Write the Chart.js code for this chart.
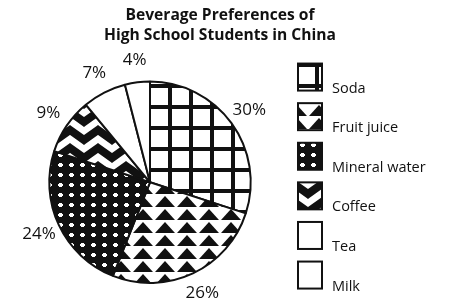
<!DOCTYPE html>
<html>
<head>
<meta charset="utf-8">
<script src="https://cdn.jsdelivr.net/npm/chart.js@4.4.1/dist/chart.umd.min.js"></script>
<style>
  html, body { margin: 0; padding: 0; background: #fff; }
  #wrap { width: 455px; height: 308px; }
</style>
</head>
<body>
<div id="wrap"><canvas id="pieChart"></canvas></div>
<script>
// values
var categories = ['Soda', 'Fruit juice', 'Mineral water', 'Coffee', 'Tea', 'Milk'];
var shares = [30, 26, 24, 9, 7, 4];
var titleLines = ['Beverage Preferences of', 'High School Students in China'];

var FONT = '"Open Sans"';
var INK = '#111';

// small tiles used as fills
function makePattern(w, h, paint) {
    var c = document.createElement('canvas');
    c.width = w;
    c.height = h;
    var g = c.getContext('2d');
    g.fillStyle = '#fff';
    g.fillRect(0, 0, w, h);
    g.fillStyle = INK;
    g.strokeStyle = INK;
    paint(g, w, h);
    return g.createPattern(c, 'repeat');
}

var gridFill = makePattern(21, 21, function (g, w, h) {
    g.fillRect(0, 0, 4, h);
    g.fillRect(0, 0, w, 4);
});

var triFill = makePattern(22, 13, function (g, w, h) {
    g.beginPath();
    g.moveTo(1, 12);
    g.lineTo(21, 12);
    g.lineTo(11, 1);
    g.closePath();
    g.fill();
});

var dotFill = makePattern(11, 10, function (g, w, h) {
    g.fillRect(0, 0, w, h);
    g.fillStyle = '#fff';
    g.fillRect(3, 4, 5, 2);
    g.fillRect(4, 3, 3, 4);
});

var zigFill = makePattern(28, 18, function (g, w, h) {
    g.lineWidth = 8;
    g.lineJoin = 'miter';
    for (var k = -1; k <= 1; k++) {
        var o = k * h;
        g.beginPath();
        g.moveTo(-14, 4 + o);
        g.lineTo(0, 14 + o);
        g.lineTo(14, 4 + o);
        g.lineTo(28, 14 + o);
        g.lineTo(42, 4 + o);
        g.stroke();
    }
});

var fills = [gridFill, triFill, dotFill, zigFill, '#fff', '#fff'];

// percentage labels just outside each slice
var outsideLabels = {
    id: 'outsideLabels',
    afterDatasetsDraw: function (chart) {
        var ctx = chart.ctx;
        var meta = chart.getDatasetMeta(0);
        ctx.save();
        ctx.font = '17px ' + FONT;
        ctx.fillStyle = INK;
        ctx.textAlign = 'center';
        ctx.textBaseline = 'middle';
        meta.data.forEach(function (arc, i) {
            var p = arc.getProps(['x', 'y', 'startAngle', 'endAngle', 'outerRadius'], true);
            var a = (p.startAngle + p.endAngle) / 2;
            var r = p.outerRadius + 22;
            ctx.fillText(shares[i] + '%', p.x + Math.cos(a) * r, p.y + Math.sin(a) * r);
        });
        ctx.restore();
    }
};

// legend column on the right, registered as a layout box so the title stays centred on the page
var sideLegend = {
    id: 'sideLegend',
    beforeInit: function (chart) {
        var box = {
            position: 'right',
            weight: 1000,
            fullSize: false,
            options: {},
            isHorizontal: function () { return false; },
            update: function (maxWidth, maxHeight) {
                this.width = 140;
                this.height = maxHeight;
            },
            draw: function () {
                var ctx = chart.ctx;
                var x = this.left - 2;
                var y = this.top - 17;
                ctx.save();
                ctx.font = '14.5px ' + FONT;
                ctx.textBaseline = 'alphabetic';
                ctx.textAlign = 'left';
                categories.forEach(function (name, i) {
                    var top = y + i * 39.6;
                    ctx.fillStyle = fills[i];
                    ctx.fillRect(x, top, 24, 27);
                    ctx.lineWidth = 2;
                    ctx.strokeStyle = INK;
                    ctx.strokeRect(x, top, 24, 27);
                    ctx.fillStyle = INK;
                    ctx.fillText(name, x + 34, top + 29);
                });
                ctx.restore();
            }
        };
        Chart.layouts.addBox(chart, box);
    }
};

var ctxP = document.getElementById('pieChart').getContext('2d');
var myPieChart = new Chart(ctxP, {
    type: 'pie',
    data: {
        labels: categories,
        datasets: [{
            data: shares,
            backgroundColor: fills,
            borderColor: INK,
            borderWidth: 2,
            hoverOffset: 0,
            hoverBorderWidth: 2
        }]
    },
    options: {
        responsive: true,
        maintainAspectRatio: false,
        animation: false,
        events: [],
        layout: {
            padding: { left: 0, right: 15, top: 0, bottom: 24 }
        },
        plugins: {
            legend: { display: false },
            tooltip: { enabled: false },
            title: {
                display: true,
                text: titleLines,
                color: INK,
                font: { family: FONT, size: 15.6, weight: 'bold', lineHeight: 1.3 },
                padding: { top: 5, bottom: 35 }
            }
        }
    },
    plugins: [outsideLabels, sideLegend]
});
</script>
</body>
</html>
